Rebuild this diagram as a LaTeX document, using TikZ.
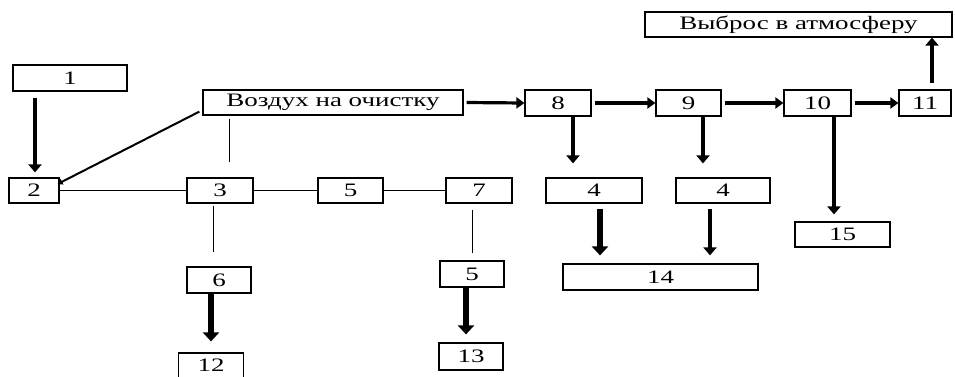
\documentclass[tikz,border=0pt]{standalone}
\usepackage{fontspec}
\setmainfont{Liberation Serif}
\newfontfamily\blockfont[FakeStretch=1.42]{Liberation Serif}
\usetikzlibrary{arrows.meta,calc}
\begin{document}
\begin{tikzpicture}[x=1pt,y=-1pt,
  box/.style={draw, line width=1.2pt, inner sep=0pt, anchor=center,
    font=\blockfont\fontsize{19}{19}\selectfont},
  link/.style={line width=1pt},
  heavy/.style={line width=6.3pt, -{Triangle[width=16pt,length=9pt]}},
  medium/.style={line width=4.2pt, -{Triangle[width=13pt,length=8pt]}},
  flow/.style={line width=3.2pt, -{Triangle[width=11pt,length=8pt]}},
  feed/.style={line width=2pt, -{Triangle[width=6pt,length=5pt]}}]
\useasboundingbox (0,0) rectangle (955,376);
\clip (0,0) rectangle (955,376);

% blocks
\node[box, minimum width=114pt, minimum height=26pt] (b1) at (70,78) {1};
\node[box, minimum width=50pt, minimum height=25pt] (b2) at (34,190.5) {2};
\node[box, minimum width=260pt, minimum height=25pt] (air) at (333,102.5) {Воздух на очистку};
\node[box, minimum width=66pt, minimum height=25pt] (b3) at (220,190.5) {3};
\node[box, minimum width=65pt, minimum height=25pt] (b5a) at (350.5,190.5) {5};
\node[box, minimum width=66pt, minimum height=25pt] (b7) at (479,190.5) {7};
\node[box, minimum width=64pt, minimum height=26pt] (b6) at (219,280) {6};
\node[box, minimum width=65pt, minimum height=25pt] (b12) at (211,365.5) {12};
\node[box, minimum width=64pt, minimum height=26pt] (b5b) at (472,274) {5};
\node[box, minimum width=64pt, minimum height=27pt] (b13) at (471,356.5) {13};
\node[box, minimum width=66pt, minimum height=26pt] (b8) at (558,103) {8};
\node[box, minimum width=65pt, minimum height=26pt] (b9) at (688.5,103) {9};
\node[box, minimum width=67pt, minimum height=26pt] (b10) at (817.5,103) {10};
\node[box, minimum width=52pt, minimum height=26pt] (b11) at (925,103) {11};
\node[box, minimum width=307pt, minimum height=25pt] (out) at (798.5,24.5) {Выброс в атмосферу};
\node[box, minimum width=96pt, minimum height=25pt] (b4a) at (594,190.5) {4};
\node[box, minimum width=94pt, minimum height=25pt] (b4b) at (723,190.5) {4};
\node[box, minimum width=195pt, minimum height=26pt] (b14) at (660.5,277) {14};
\node[box, minimum width=95pt, minimum height=25pt] (b15) at (842.5,234.5) {15};

% plain links
\draw[link] (b2.east) -- (b3.west);
\draw[link] (b3.east) -- (b5a.west);
\draw[link] (b5a.east) -- (b7.west);
\draw[link] ($(air.south)+(-104,3)$) -- ($(b3.north)+(9,-15)$);
\draw[link] ($(b7.south)+(-7,6)$) -- ($(b5b.north)+(0,-7)$);
\draw[link] ($(b3.south)+(-7,2)$) -- ($(b6.north)+(-6,-14)$);

% air feed to block 2
\draw[feed] ($(air.south west)+(-3,-4)$) -- ($(b2.east)+(-2,-6.5)$);

% heaviest arrows
\draw[heavy] ($(b6.south)+(-8,0)$) -- ($(b12.north)+(0,-11)$);
\draw[heavy] ($(b5b.south)+(-6,0)$) -- ($(b13.north)+(-5,-8)$);
\draw[heavy] ($(b4a.south)+(6,5)$) -- ($(b14.north)+(-60.5,-8)$);

% medium arrows
\draw[medium] ($(b1.south)+(-35,6)$) -- ($(b2.north)+(1,-5)$);
\draw[medium] ($(b4b.south)+(-13,5)$) -- ($(b14.north)+(49.5,-8)$);
\draw[medium] ($(b8.south)+(15,0)$) -- ($(b4a.north)+(-21,-14)$);
\draw[medium] ($(b9.south)+(14.5,0)$) -- ($(b4b.north)+(-20,-14)$);
\draw[medium] ($(b10.south)+(16.5,0)$) -- ($(b15.north)+(-8.5,-7)$);
\draw[medium] ($(b11.north)+(7,-6)$) -- ($(out.south)+(133.5,0)$);

% main flow
\draw[flow] ($(air.east)+(3,0)$) -- (b8.west);
\draw[flow] ($(b8.east)+(3,0)$) -- (b9.west);
\draw[flow] ($(b9.east)+(3,0)$) -- (b10.west);
\draw[flow] ($(b10.east)+(3,0)$) -- (b11.west);
\end{tikzpicture}
\end{document}
